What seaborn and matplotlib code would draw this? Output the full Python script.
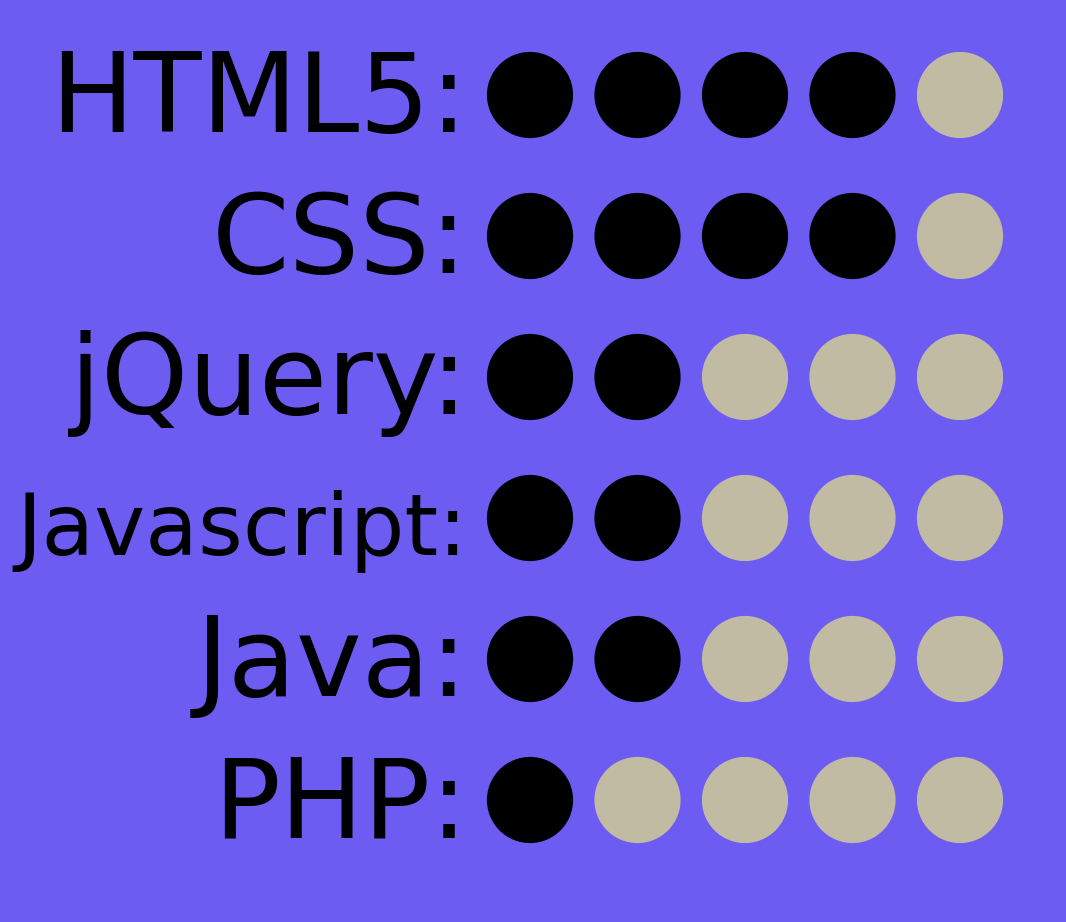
import pandas as pd
import matplotlib.pyplot as plt
import seaborn as sns

skills = ['HTML5', 'CSS', 'jQuery', 'Javascript', 'Java', 'PHP']
levels = [4, 4, 2, 2, 2, 1]
max_level = 5
font_sizes = [80, 80, 80, 62, 80, 80]

bg = '#6C5CF2'
filled_color = '#000000'
empty_color = '#C2BBA4'

rows = []
for i, (name, lvl) in enumerate(zip(skills, levels)):
    for j in range(max_level):
        rows.append({'skill': name, 'row': i, 'dot': j,
                     'state': 'on' if j < lvl else 'off'})
df = pd.DataFrame(rows)

sns.set_style("white")
plt.rcParams['font.family'] = ['DejaVu Sans']

fig = plt.figure(figsize=(10.66, 9.22), dpi=100, facecolor=bg)
ax = fig.add_axes([0, 0, 1, 1])
ax.set_facecolor(bg)

sns.scatterplot(data=df, x='dot', y='row', hue='state',
                palette={'on': filled_color, 'off': empty_color},
                s=3850, linewidth=0, legend=False, ax=ax)

for i, name in enumerate(skills):
    ax.text(-0.58, i + 0.265, name + ':', ha='right', va='baseline',
            fontsize=font_sizes[i], color='black')

ax.set_xlim(-530 / 107.5, (1066 - 530) / 107.5)
ax.set_ylim((922 - 95) / 141, -95 / 141)
ax.set_axis_off()

plt.savefig('out.png', dpi=100, facecolor=bg)
